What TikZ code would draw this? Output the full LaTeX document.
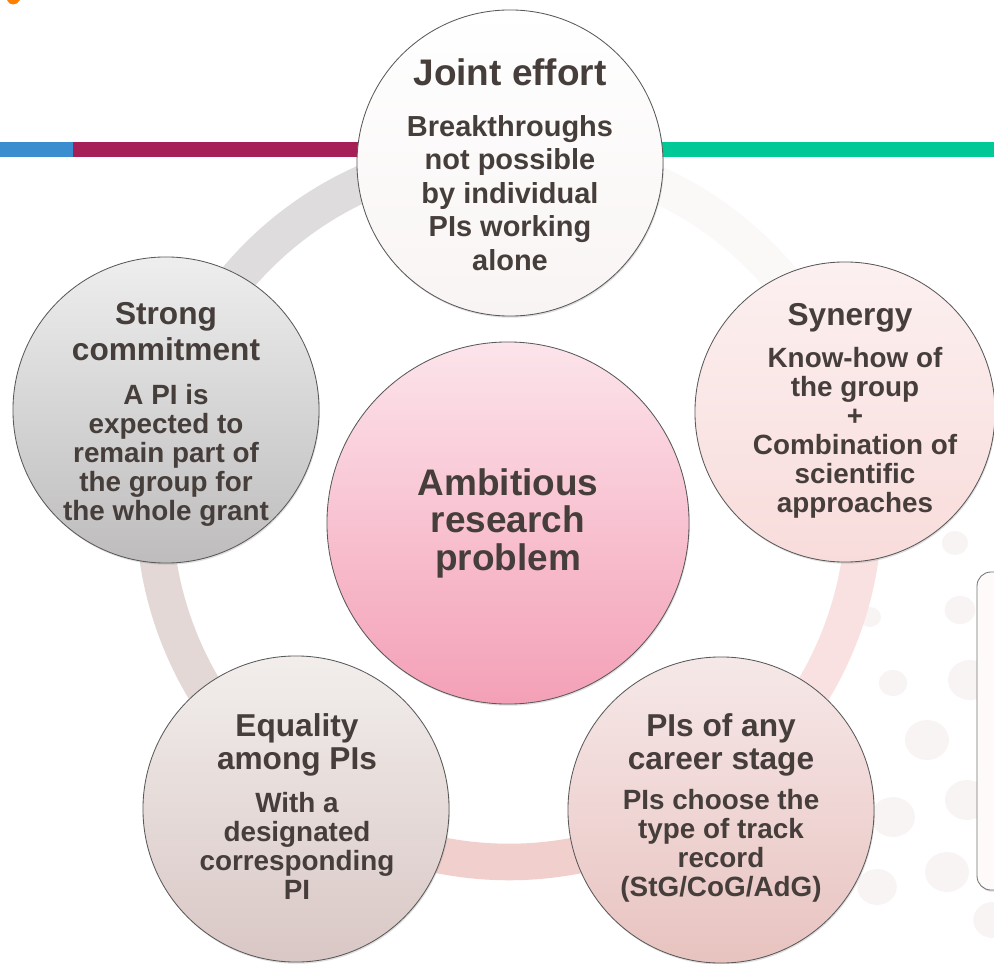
\documentclass[tikz,border=0pt]{standalone}
\usepackage{fontspec}
\setmainfont{Liberation Sans}
\usetikzlibrary{shadows,positioning,calc}

\definecolor{txt}{HTML}{463E3B}
\definecolor{barblue}{HTML}{3A8ED0}
\definecolor{barred}{HTML}{A61F57}
\definecolor{barteal}{HTML}{00C896}
\definecolor{dotpink}{HTML}{F9F4F4}
\definecolor{ringgray}{HTML}{DEDCDC}
\definecolor{ringmauve}{HTML}{E4D8D7}
\definecolor{ringrose}{HTML}{F0CFCD}
\definecolor{ringpink}{HTML}{F9E1E1}
\definecolor{ringwhite}{HTML}{FBF8F8}
\definecolor{coretop}{HTML}{FCE4EB}
\definecolor{corebot}{HTML}{F4A0B7}
\definecolor{jointtop}{HTML}{FFFFFF}
\definecolor{jointbot}{HTML}{F8F4F3}
\definecolor{syntop}{HTML}{FCF0F0}
\definecolor{synbot}{HTML}{F8DCDB}
\definecolor{cartop}{HTML}{F6E8E8}
\definecolor{carbot}{HTML}{E8C3C0}
\definecolor{equtop}{HTML}{F2EEEC}
\definecolor{equbot}{HTML}{D9C7C5}
\definecolor{strtop}{HTML}{EEEEEE}
\definecolor{strbot}{HTML}{BEBCBC}
\definecolor{boxfill}{HTML}{FFFAFA}

\begin{document}
\begin{tikzpicture}
    [x=0.025cm, y=0.025cm,
    circ/.style={circle, draw=black!65, line width=0.6pt, inner sep=0pt, minimum size=7.65cm,
        drop shadow={shadow xshift=0.6pt, shadow yshift=-1.2pt, opacity=0.25}},
    ttl/.style={align=center, text=txt, font=\bfseries\fontsize{22.5}{23.5}\selectfont},
    body/.style={align=center, text=txt, font=\bfseries\fontsize{19.8}{20.6}\selectfont},
    ring/.style={line width=26pt},
    dot/.style={fill=dotpink, draw=none},
    notebox/.style={draw=black!55, fill=boxfill, line width=0.6pt, rounded corners=10pt,
        minimum width=2cm, minimum height=7.95cm,
        drop shadow={shadow xshift=0.6pt, shadow yshift=-1.2pt, opacity=0.25}}]

    \clip (0,0) rectangle (994,963);

    % background dots on the right
    \foreach \x/\y/\r in {955/420/12, 960/353/14, 870/346/10, 893/280/13, 927/223/20,
        893/146/20, 947/91/20, 877/76/18, 993/43/18, 970/283/20, 967/163/20}
        \fill[dot] (\x,\y) ellipse ({\r*1.1} and \r);

    % coloured bars
    \fill[barblue] (0,806) rectangle (73,821);
    \fill[barred] (73,806) rectangle (520,821);
    \fill[barteal] (520,806) rectangle (994,821);

    % tip of a letter cut off at the top left
    \fill[orange] (7,963) .. controls (9,957) and (17,957) .. (20,963) -- cycle;

    % --- ring behind the outer circles ---
    \coordinate (ringc) at (509,456);
    \foreach \a/\b/\c in {90/165/ringgray, 165/235/ringmauve, 235/305/ringrose,
        305/376/ringpink, 16/90/ringwhite}
        \draw[ring, \c] ($(ringc)+(\a:355)$) arc[start angle=\a, end angle=\b, radius=355];

    % box cut off at the right edge
    \node[notebox] (note) at (1017,232) {};

    % --- circles ---
    \node[circ, minimum size=9.05cm, top color=coretop, bottom color=corebot] (core) at (508,440) {};
    \node[circ, top color=jointtop, bottom color=jointbot] (joint) at (510,800) {};
    \node[circ, minimum size=7.5cm, top color=syntop, bottom color=synbot] (synergy) at (845,551) {};
    \node[circ, top color=cartop, bottom color=carbot] (career) at (721,153) {};
    \node[circ, top color=equtop, bottom color=equbot] (equality) at (296,154) {};
    \node[circ, top color=strtop, bottom color=strbot] (strong) at (166,553) {};

    % --- texts ---
    \node[ttl, font=\bfseries\fontsize{26.3}{28}\selectfont] (jointT) at (510,891) {Joint effort};
    \node[body, font=\bfseries\fontsize{20.6}{23.8}\selectfont] (jointB) at (510,770)
        {Breakthroughs\\not possible\\by individual\\PIs working\\alone};

    \node[ttl] (synergyT) at (850,645) {Synergy};
    \node[body] (synergyB) at (855,530)
        {Know-how of\\the group\\+\\Combination of\\scientific\\approaches};

    \node[ttl, font=\bfseries\fontsize{22.5}{25.6}\selectfont] (strongT) at (166,631) {Strong\\commitment};
    \node[body] (strongB) at (166,508)
        {A PI is\\expected to\\remain part of\\the group for\\the whole grant};

    \node[ttl, font=\bfseries\fontsize{26.3}{26.7}\selectfont] (coreT) at (508,440) {Ambitious\\research\\problem};

    \node[ttl] (equalityT) at (297,218) {Equality\\among PIs};
    \node[body] (equalityB) at (297,117) {With a\\designated\\corresponding\\PI};

    \node[ttl] (careerT) at (721,218) {PIs of any\\career stage};
    \node[body] (careerB) at (721,117) {PIs choose the\\type of track\\record\\(StG/CoG/AdG)};
\end{tikzpicture}
\end{document}
